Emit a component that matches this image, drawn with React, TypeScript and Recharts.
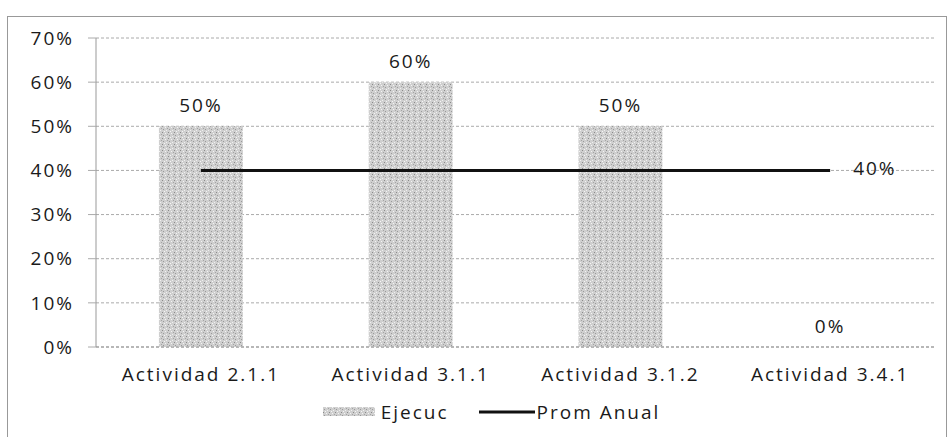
import React from "react";
import {
  ComposedChart,
  Bar,
  Line,
  XAxis,
  YAxis,
  CartesianGrid,
  Legend,
  LabelList,
} from "recharts";

const categories = ["Actividad 2.1.1", "Actividad 3.1.1", "Actividad 3.1.2", "Actividad 3.4.1"];
const ejecuc = [0.5, 0.6, 0.5, 0];
const promAnual = [0.4, 0.4, 0.4, 0.4];
const yTicks = [0, 0.1, 0.2, 0.3, 0.4, 0.5, 0.6, 0.7];

const data = categories.map((name, i) => ({
  name,
  ejecuc: ejecuc[i],
  prom: promAnual[i],
}));

const FONT = "'Open Sans', sans-serif";
const pct = (v: number) => `${Math.round(v * 100)}%`;

const textStyle = {
  fontFamily: FONT,
  fontSize: 19,
  fill: "#1a1a1a",
  letterSpacing: 2,
};

// only the last point of the average line carries a label
const PromLabel = (props: any) => {
  const { x, y, index, value } = props;
  if (index !== categories.length - 1) return null;
  return (
    <text x={x + 23} y={y + 5} {...textStyle}>
      {pct(value)}
    </text>
  );
};

// value labels above each bar (also for the 0% one)
const BarValueLabel = (props: any) => {
  const { x, y, value } = props;
  return (
    <text x={x} y={y - 14} textAnchor="middle" {...textStyle}>
      {pct(value)}
    </text>
  );
};

const LegendContent = () => (
  <div
    style={{
      height: 24,
      display: "flex",
      justifyContent: "center",
      alignItems: "center",
      fontFamily: FONT,
      fontSize: 19,
      letterSpacing: 2,
      color: "#1a1a1a",
      paddingLeft: 48,
    }}
  >
    <svg width={52} height={12} style={{ marginRight: 6 }}>
      <rect x={0} y={1} width={52} height={9} fill="url(#stipple)" />
    </svg>
    <span style={{ marginRight: 30 }}>Ejecuc</span>
    <svg width={56} height={12} style={{ marginRight: 2 }}>
      <line x1={0} y1={6} x2={56} y2={6} stroke="#111" strokeWidth={3} />
    </svg>
    <span>Prom Anual</span>
  </div>
);

export default function App() {
  return (
    <div style={{ position: "absolute", left: 0, top: 0, width: 950, height: 437, background: "#fff" }}>
      <div
        style={{
          position: "absolute",
          left: 7,
          top: 16,
          width: 940,
          height: 440,
          border: "1px solid #999",
          boxSizing: "border-box",
        }}
      />
      <ComposedChart
        width={950}
        height={437}
        data={data}
        margin={{ top: 38, right: 15, left: 0, bottom: 13 }}
        barCategoryGap="30%"
        style={{ position: "absolute", left: 0, top: 0 }}
      >
        <defs>
          <pattern id="stipple" width={6} height={6} patternUnits="userSpaceOnUse">
            <rect width={6} height={6} fill="#cfcfcf" />
            <rect x={0} y={0} width={1} height={1} fill="#8a8a8a" />
            <rect x={3} y={1} width={1} height={1} fill="#f4f4f4" />
            <rect x={1} y={3} width={1} height={1} fill="#9a9a9a" />
            <rect x={4} y={4} width={1} height={1} fill="#f0f0f0" />
            <rect x={5} y={2} width={1} height={1} fill="#a4a4a4" />
            <rect x={2} y={5} width={1} height={1} fill="#f6f6f6" />
          </pattern>
        </defs>
        <CartesianGrid vertical={false} stroke="#aaa" strokeDasharray="3 2" />
        <XAxis
          dataKey="name"
          height={53}
          tickLine={false}
          axisLine={{ stroke: "#999", strokeDasharray: "3 2" }}
          tickMargin={15}
          tick={textStyle}
          interval={0}
        />
        <YAxis
          width={96}
          domain={[0, 0.7]}
          ticks={yTicks}
          tickFormatter={pct}
          tickSize={8}
          tickMargin={14}
          tickLine={{ stroke: "#aaa" }}
          axisLine={{ stroke: "#999" }}
          tick={textStyle}
        />
        <Legend verticalAlign="bottom" content={<LegendContent />} />
        <Bar dataKey="ejecuc" name="Ejecuc" fill="url(#stipple)" isAnimationActive={false} />
        {/* invisible series carrying the bar value labels, so 0% shows too */}
        <Line
          dataKey="ejecuc"
          stroke="none"
          dot={false}
          activeDot={false}
          legendType="none"
          isAnimationActive={false}
        >
          <LabelList dataKey="ejecuc" content={<BarValueLabel />} />
        </Line>
        <Line
          dataKey="prom"
          name="Prom Anual"
          stroke="#111"
          strokeWidth={3}
          dot={false}
          activeDot={false}
          isAnimationActive={false}
        >
          <LabelList dataKey="prom" content={<PromLabel />} />
        </Line>
      </ComposedChart>
    </div>
  );
}
